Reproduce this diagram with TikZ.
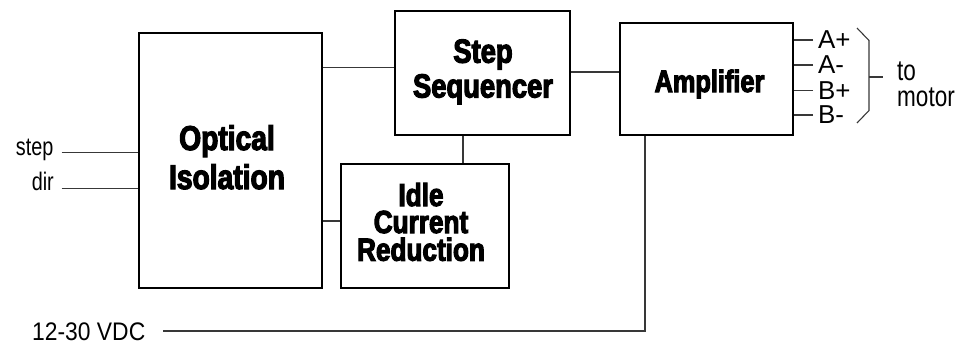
\documentclass[tikz,border=0pt]{standalone}
\usepackage{fontspec}
\setmainfont{Liberation Sans}
\newfontfamily\titlefont[FakeStretch=0.82,FakeBold=3.4]{Liberation Sans Bold}
\newfontfamily\condfont[FakeStretch=0.78]{Liberation Sans}
\newfontfamily\vdcfont[FakeStretch=0.9]{Liberation Sans}
\begin{document}
\begin{tikzpicture}[x=1bp,y=-1bp,
  blk/.style={draw=black,line width=2.6bp,inner sep=0pt},
  wire/.style={draw=black!78,line width=1.3bp},
  ttl/.style={anchor=base,inner sep=0pt,text depth=0pt,font=\titlefont\fontsize{#1}{#1}\selectfont},
  sig/.style={inner sep=0pt,text depth=0pt,font=\condfont\fontsize{#1}{#1}\selectfont},
  pin/.style={anchor=west,inner sep=0pt,font=\fontsize{26}{26}\selectfont}]
\useasboundingbox (0,0) rectangle (968,344);
% blocks
\node[blk,minimum width=183bp,minimum height=255bp] (OI) at (230.5,160.5) {};
\node[blk,minimum width=175bp,minimum height=124bp] (SS) at (482.5,73) {};
\node[blk,minimum width=168bp,minimum height=124bp] (IC) at (425,226) {};
\node[blk,minimum width=173bp,minimum height=112bp] (AM) at (706.5,79) {};
% block titles
\node[ttl=34.5] (oi1) at (227,150) {Optical};
\node[ttl=34.5] (oi2) at (227,189) {Isolation};
\node[ttl=33.5] (ss1) at (483,62.7) {Step};
\node[ttl=33.5] (ss2) at (483,97.5) {Sequencer};
\node[ttl=32] (ic1) at (421,206) {Idle};
\node[ttl=32] (ic2) at (421,233) {Current};
\node[ttl=32] (ic3) at (421,260.7) {Reduction};
\node[ttl=31] (am1) at (709.5,92) {Amplifier};
% interconnections
\draw[wire] ([yshift=5.3bp]SS.west) -- ([yshift=5.3bp]SS.west -| OI.east);
\draw[wire] ([yshift=5bp]IC.west) -- ([yshift=5bp]IC.west -| OI.east);
\draw[wire] ([xshift=-19.5bp]SS.south) -- ([xshift=-19.5bp]SS.south |- IC.north);
\draw[wire] ([yshift=1bp]SS.east) -- ([yshift=1bp]SS.east -| AM.west);
% inputs
\node[sig=25.5,anchor=base east] (step) at (53.5,155) {step};
\node[sig=25.5,anchor=base east] (dir) at (54,190) {dir};
\coordinate (stepin) at (61.5,152.3);
\coordinate (dirin) at (61.5,188.3);
\draw[wire] (stepin) -- (stepin -| OI.west);
\draw[wire] (dirin) -- (dirin -| OI.west);
\node[inner sep=0pt,text depth=0pt,font=\vdcfont\fontsize{25.5}{25.5}\selectfont,anchor=base west] (vdc) at (32,340) {12-30 VDC};
\coordinate (vin) at (163,331);
\draw[wire] (vin) -- ([xshift=-61.5bp]AM.south |- vin) -- ([xshift=-61.5bp]AM.south);
% outputs
\node[pin] (ap) at (818,40) {A+};
\node[pin] (am) at (818,65) {A-};
\node[pin] (bp) at (818,90.5) {B+};
\node[pin] (bm) at (818,115) {B-};
\foreach \p in {ap,am,bp,bm} \draw[wire] ([xshift=-5bp]\p.west) -- (\p.west -| AM.east);
% brace
\coordinate (br1) at (857,28);
\coordinate (br2) at (869,40.5);
\coordinate (br3) at (869,110.5);
\coordinate (br4) at (857,123);
\coordinate (brm) at (869,77);
\draw[wire,line width=1.1bp] (br1) -- (br2) -- (br3) -- (br4);
\draw[wire,line width=1.1bp] (brm) -- ++(14,0);
\node[sig=29,anchor=base west] (to) at (897,80) {to};
\node[sig=29,anchor=base west] (motor) at (897,106) {motor};
\end{tikzpicture}
\end{document}
